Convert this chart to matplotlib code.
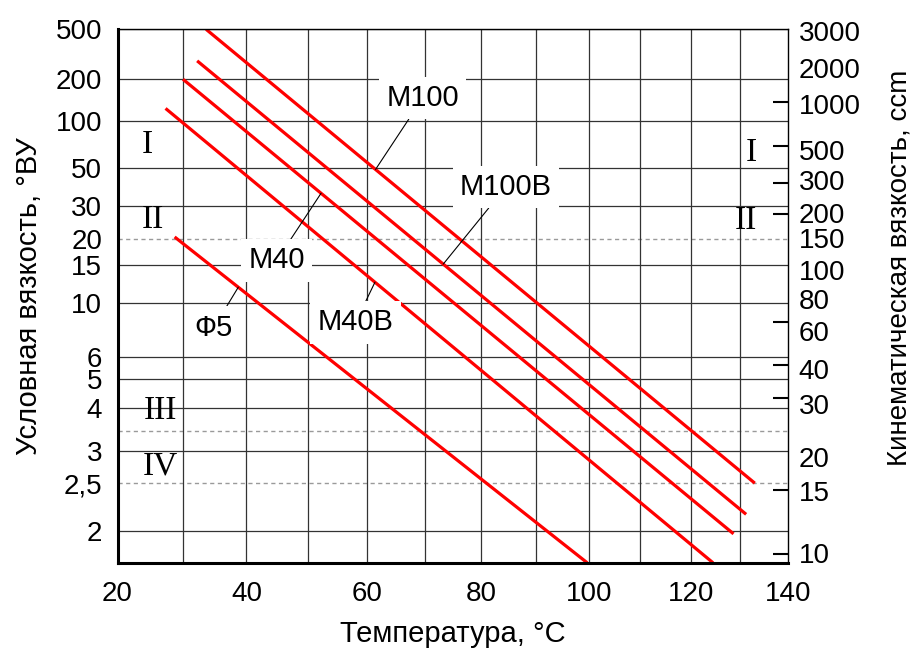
import numpy as np
import matplotlib
matplotlib.use('Agg')
import matplotlib.pyplot as plt

plt.rcParams['font.family'] = ['Liberation Sans', 'DejaVu Sans']

# axis ticks
temp_ticks = [20, 40, 60, 80, 100, 120, 140]
temp_grid = [30, 40, 50, 60, 70, 80, 90, 100, 110, 120, 130]
vu_ticks = [500, 200, 100, 50, 30, 20, 15, 10, 6, 5, 4, 3, 2.5, 2]
vu_labels = ['500', '200', '100', '50', '30', '20', '15', '10', '6', '5', '4', '3', '2,5', '2']
cst_values = [3000, 2000, 1000, 500, 300, 200, 150, 100, 80, 60, 40, 30, 20, 15, 10]
cst_marked = [1000, 500, 300, 200, 60, 40, 30, 15, 10]
class_bounds = [20, 3.4, 2.5]

# oils: end points (temperature, deg VU)
oil_names = ['М100', 'М100В', 'М40', 'М40В', 'Ф5']
oil_t = [[33.6, 133.1], [32.2, 131.3], [30.0, 128.7], [27.3, 124.5], [28.7, 99.7]]
oil_vu = [[500, 2.5], [277, 2.15], [200, 1.98], [123, 1.78], [20.6, 1.78]]
tag_t = [61.4, 73.2, 52.2, 61.3, 38.7]
tag_pos = [(69.6, 146), (84.5, 38.8), (44.9, 15.7), (58.0, 8.25), (34.8, 7.84)]

# viscosity classes
class_names = ['I', 'II', 'III', 'IV', 'I', 'II']
class_t = [24.5, 25.4, 26.5, 26.5, 132.4, 131.2]
class_vu = [69.7, 25.3, 3.92, 2.75, 62.6, 25.2]

vu_lim = (1.777, 500)

# small vertical shifts of the right-hand labels (points, down is positive)
cst_label_shift = [-4, 7, 3.5, 4.5, 0, 2, 3, 0.5, 6, 9, 5, 6, 7, 3, 2]


def vu_to_cst(e):
    e = np.maximum(np.asarray(e, dtype=float), 1.0)
    return 7.31*e - 6.31/e

def cst_to_vu(v):
    v = np.maximum(np.asarray(v, dtype=float), 1.0)
    return (v + np.sqrt(v**2 + 4*7.31*6.31))/(2*7.31)

# Walther scale log(log(nu + 0.7))
def w_cst(v):
    v = np.maximum(np.asarray(v, dtype=float), 0.5)
    return np.log10(np.log10(v + 0.7))

def w_cst_inv(w):
    w = np.clip(np.asarray(w, dtype=float), -1.5, 0.9)
    return 10**(10**w) - 0.7

def w_vu(e):
    return w_cst(vu_to_cst(e))

def w_vu_inv(w):
    return cst_to_vu(w_cst_inv(w))

def t_fwd(t):
    return np.log10(np.maximum(np.asarray(t, dtype=float) + 273.15, 1.0))

def t_inv(u):
    return 10**np.asarray(u, dtype=float) - 273.15


fig = plt.figure(figsize=(9.14, 6.52), dpi=100)
ax = fig.add_axes([0.12856, 0.13604, 0.73326, 0.81902])

ax.set_xscale('function', functions=(t_fwd, t_inv))
ax.set_yscale('function', functions=(w_vu, w_vu_inv))
ax.set_xlim(20, 140)
ax.set_ylim(*vu_lim)

# grid
for v in vu_ticks:
    if v in class_bounds:
        continue
    ax.axhline(v, color='#333333', lw=0.9, zorder=1)
for v in class_bounds:
    ax.axhline(v, color='#9a9a9a', lw=1.0, ls=(0, (3, 2.5)), zorder=1)
for t in temp_grid:
    ax.axvline(t, color='#333333', lw=0.9, zorder=1)

# oil lines
for i in range(len(oil_names)):
    ax.plot(oil_t[i], oil_vu[i], color='#ff0000', lw=2.3, solid_capstyle='butt', zorder=2)
    # point on the line for the leader
    w = np.interp(t_fwd(tag_t[i]), t_fwd(oil_t[i]), w_vu(oil_vu[i]))
    ax.annotate(oil_names[i], xy=(tag_t[i], w_vu_inv(w)), xytext=tag_pos[i],
                ha='center', va='center', fontsize=21, zorder=4,
                bbox=dict(boxstyle='square,pad=0.25', fc='white', ec='none'),
                arrowprops=dict(arrowstyle='-', color='black', lw=0.8, shrinkA=0, shrinkB=0))

for i in range(len(class_names)):
    ax.text(class_t[i], class_vu[i], class_names[i], ha='center', va='center',
            fontsize=24, family=['Liberation Serif', 'DejaVu Serif'], zorder=3)

# left axis
ax.set_yticks(vu_ticks, labels=vu_labels)
ax.tick_params(axis='y', length=0, pad=11, labelsize=20)
ax.set_xticks(temp_ticks)
ax.tick_params(axis='x', length=0, pad=13, labelsize=20)
ax.set_xlabel('Температура, °С', fontsize=21, labelpad=9)
ax.set_ylabel('Условная вязкость, °ВУ', fontsize=21, labelpad=9)

ax.spines['left'].set_linewidth(2.2)
ax.spines['bottom'].set_linewidth(2.2)
ax.spines['top'].set_linewidth(1.0)
ax.spines['right'].set_visible(False)

# right axis in cSt, same Walther scale
ax2 = ax.twinx()
ax2.set_yscale('function', functions=(w_cst, w_cst_inv))
ax2.set_ylim(vu_to_cst(vu_lim[0]), vu_to_cst(vu_lim[1]))
ax2.set_yticks(cst_marked, labels=[])
ax2.yaxis.set_minor_locator(matplotlib.ticker.NullLocator())
ax2.tick_params(which='major', direction='in', length=11, width=1.5)
for v, dy in zip(cst_values, cst_label_shift):
    ax2.annotate(str(v), xy=(1, v), xycoords=('axes fraction', 'data'),
                 xytext=(8, -dy), textcoords='offset points',
                 ha='left', va='center', fontsize=20)
for s in ['left', 'top', 'bottom']:
    ax2.spines[s].set_visible(False)
ax2.spines['right'].set_linewidth(1.0)
ax2.set_ylabel('Кинематическая вязкость, ccm', fontsize=20)
ax2.yaxis.set_label_coords(1.147, 0.554)

fig.savefig('out.png', dpi=100)
